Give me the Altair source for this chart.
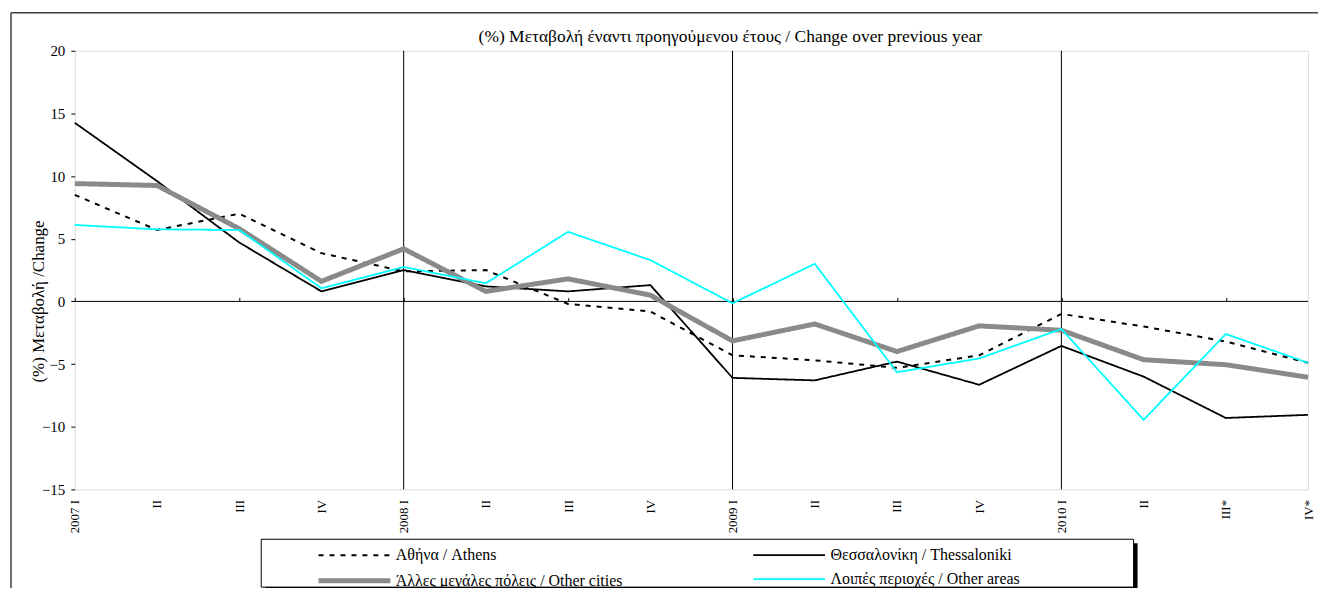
import altair as alt
import pandas as pd

periods = ["2007 I", "2007 II", "2007 III", "2007 IV",
           "2008 I", "2008 II", "2008 III", "2008 IV",
           "2009 I", "2009 II", "2009 III", "2009 IV",
           "2010 I", "2010 II", "2010 III*", "2010 IV*"]
tick_labels = ["2007 I", "II", "III", "IV",
               "2008 I", "II", "III", "IV",
               "2009 I", "II", "III", "IV",
               "2010 I", "II", "III*", "IV*"]
year_starts = ["2008 I", "2009 I", "2010 I"]
minor_ticks = ["2007 I", "2007 III", "2008 I", "2008 III", "2009 I", "2009 III", "2010 I", "2010 III*"]

athens = [8.5, 5.7, 7.0, 3.85, 2.4, 2.5, -0.2, -0.8, -4.3, -4.7, -5.3, -4.3, -1.0, -2.0, -3.2, -4.9]
thessaloniki = [14.25, 9.6, 4.7, 0.8, 2.5, 1.2, 0.8, 1.3, -6.1, -6.3, -4.8, -6.65, -3.55, -6.0, -9.3, -9.05]
other_cities = [9.4, 9.25, 5.8, 1.6, 4.2, 0.8, 1.8, 0.5, -3.15, -1.8, -4.0, -1.95, -2.3, -4.65, -5.05, -6.05]
other_areas = [6.1, 5.75, 5.7, 1.05, 2.75, 1.45, 5.55, 3.3, -0.15, 3.0, -5.65, -4.55, -2.2, -9.45, -2.6, -4.9]

series_names = ["Αθήνα / Athens", "Θεσσαλονίκη / Thessaloniki",
                "Άλλες μεγάλες πόλεις / Other cities", "Λοιπές περιοχές / Other areas"]
series_values = [athens, thessaloniki, other_cities, other_areas]
series_colors = ["#000000", "#000000", "#8a8a8a", "#00FFFF"]
series_dash = [[5, 6], [1, 0], [1, 0], [1, 0]]
series_width = [2, 1.8, 5, 1.8]

rows = []
for si, (name, vals) in enumerate(zip(series_names, series_values)):
    for pi, (p, v) in enumerate(zip(periods, vals)):
        rows.append({"series": name, "period": p, "value": v, "order": si * 100 + pi})
df = pd.DataFrame(rows)

FONT = "Liberation Serif"
W, H = 1237, 440
zero_px = H * 20 / 35

label_expr = "[" + ",".join("'%s'" % t for t in tick_labels) + "][indexof([" + \
    ",".join("'%s'" % p for p in periods) + "], datum.value)]"

xscale = alt.Scale(type="point", domain=periods, padding=0)

# decorations: outer frame and legend box
frame_left = alt.Chart(alt.Data(values=[{}])).mark_rule(color="#404040", strokeWidth=1.5).encode(
    x=alt.value(-64), y=alt.value(-38), y2=alt.value(560))
frame_top = alt.Chart(alt.Data(values=[{}])).mark_rule(color="#404040", strokeWidth=1.5).encode(
    x=alt.value(-64), x2=alt.value(1260), y=alt.value(-38))
legend_shadow = alt.Chart(alt.Data(values=[{}])).mark_rect(color="black").encode(
    x=alt.value(191), x2=alt.value(1066), y=alt.value(494), y2=alt.value(542))
legend_box = alt.Chart(alt.Data(values=[{}])).mark_rect(fill="white", stroke="black", strokeWidth=1).encode(
    x=alt.value(187), x2=alt.value(1062), y=alt.value(490), y2=alt.value(538))

gridlines = alt.Chart(pd.DataFrame({"period": year_starts})).mark_rule(color="black", strokeWidth=1).encode(
    x=alt.X("period:N", scale=xscale,
            axis=alt.Axis(orient="top", offset=-zero_px, values=minor_ticks, labels=False,
                          domain=False, ticks=True, tickSize=4, tickColor="black",
                          tickWidth=1, title=None, grid=False)),
    y=alt.value(0), y2=alt.value(H))

zero_line = alt.Chart(pd.DataFrame({"v": [0]})).mark_rule(color="black", strokeWidth=1).encode(
    y=alt.Y("v:Q"), x=alt.value(0), x2=alt.value(W))

lines = alt.Chart(df).mark_line(strokeJoin="miter").encode(
    x=alt.X("period:N", scale=xscale, sort=periods,
            axis=alt.Axis(orient="bottom", labelExpr=label_expr, labelAngle=-90, ticks=False,
                          domain=False, labelPadding=10, title=None, labelFont=FONT,
                          labelFontSize=13, labelColor="black", grid=False)),
    y=alt.Y("value:Q", scale=alt.Scale(domain=[-15, 20], nice=False, zero=False),
            axis=alt.Axis(values=[-15, -10, -5, 0, 5, 10, 15, 20], grid=False, domain=False,
                          ticks=True, tickSize=4, tickColor="black", labelFont=FONT,
                          labelFontSize=15, labelColor="black", labelPadding=6,
                          title="(%) Μεταβολή /Change", titleFont=FONT, titleFontSize=17,
                          titleFontWeight="normal", titleColor="black", titleAngle=-90,
                          titleX=-36, titleY=251, titleAlign="center", titleBaseline="middle")),
    color=alt.Color("series:N", scale=alt.Scale(domain=series_names, range=series_colors),
                    legend=alt.Legend(title=None, orient="none", legendX=242, legendY=496,
                                      direction="horizontal", columns=2, columnPadding=126,
                                      rowPadding=6, padding=0,
                                      symbolType="M-4,0H4", symbolSize=324, symbolOffset=27,
                                      labelFont=FONT, labelFontSize=16, labelColor="black",
                                      labelOffset=30, labelLimit=400)),
    strokeDash=alt.StrokeDash("series:N", scale=alt.Scale(domain=series_names, range=series_dash),
                              legend=None),
    strokeWidth=alt.StrokeWidth("series:N", scale=alt.Scale(type="ordinal", domain=series_names,
                                                             range=series_width), legend=None),
    order=alt.Order("order:Q"),
    detail="series:N",
)

chart = alt.layer(frame_left, frame_top, legend_shadow, legend_box, gridlines, zero_line, lines).resolve_axis(
    x="independent"
).properties(
    width=W, height=H,
    title=alt.TitleParams("(%) Μεταβολή έναντι προηγούμενου έτους / Change over previous year",
                          font=FONT, fontSize=17.5, fontWeight="normal", color="black",
                          anchor="middle", dx=39, dy=47, offset=0, baseline="alphabetic"),
    autosize=alt.AutoSizeParams(type="none"),
    padding={"left": 67, "top": 42, "right": 10, "bottom": 98},
).configure_view(stroke="black", strokeWidth=2).configure(background="white")

chart.save("out.html", embed_options={"renderer": "svg", "actions": False})
